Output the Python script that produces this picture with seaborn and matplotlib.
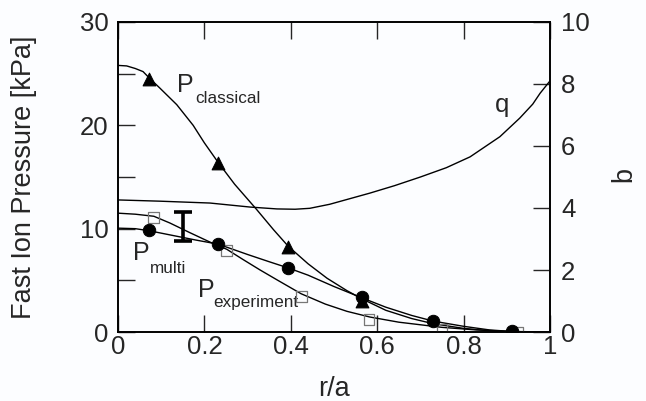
import matplotlib
matplotlib.use("Agg")
import matplotlib.pyplot as plt
import seaborn as sns
import pandas as pd
from matplotlib.ticker import MultipleLocator

# ---- data ----
cls_x = [0, 0.02, 0.04, 0.058, 0.072, 0.097, 0.136, 0.174, 0.2, 0.232, 0.27, 0.32, 0.36, 0.394,
         0.44, 0.484, 0.53, 0.565, 0.62, 0.68, 0.73, 0.8, 0.86, 0.91, 1.0]
cls_y = [25.8, 25.75, 25.5, 25.2, 24.6, 23.6, 22.0, 20.0, 18.3, 16.4, 14.3, 11.9, 9.9, 8.3,
         6.6, 5.2, 4.0, 3.2, 2.1, 1.3, 0.8, 0.35, 0.12, 0.03, 0.0]
cls_mx = [0.072, 0.232, 0.394, 0.565, 0.912]
cls_my = [24.5, 16.4, 8.2, 3.0, 0.0]

mul_x = [0, 0.04, 0.072, 0.12, 0.18, 0.232, 0.3, 0.35, 0.394, 0.44, 0.5, 0.565, 0.62, 0.68,
         0.73, 0.8, 0.86, 0.912, 1.0]
mul_y = [10.05, 10.0, 9.8, 9.4, 8.9, 8.5, 7.5, 6.8, 6.2, 5.5, 4.4, 3.3, 2.4, 1.6,
         1.05, 0.55, 0.2, 0.05, 0.0]
mul_mx = [0.072, 0.232, 0.394, 0.565, 0.729, 0.912]
mul_my = [9.85, 8.5, 6.2, 3.35, 1.05, 0.05]

exp_x = [0, 0.04, 0.083, 0.12, 0.167, 0.213, 0.252, 0.29, 0.329, 0.37, 0.424, 0.48, 0.53,
         0.583, 0.65, 0.75, 0.83, 0.924, 1.0]
exp_y = [11.5, 11.4, 11.2, 10.55, 9.6, 8.7, 8.0, 7.0, 6.0, 5.0, 3.7, 2.7, 2.0,
         1.45, 0.95, 0.45, 0.2, 0.03, 0.0]
exp_mx = [0.083, 0.252, 0.424, 0.581, 0.75, 0.924]
exp_my = [11.1, 7.9, 3.4, 1.2, 0.3, 0.0]

q_x = [0, 0.097, 0.213, 0.306, 0.368, 0.41, 0.444, 0.49, 0.583, 0.64, 0.70, 0.76, 0.815,
       0.884, 0.93, 0.96, 0.977, 1.0]
q_y = [4.26, 4.22, 4.16, 4.03, 3.97, 3.96, 3.99, 4.12, 4.48, 4.72, 5.0, 5.3, 5.65,
       6.3, 6.9, 7.35, 7.7, 8.1]

err_x = [0.151]
err_lo = [8.8]
err_hi = [11.6]

x_ticks = [0, 0.2, 0.4, 0.6, 0.8, 1.0]
x_labels = ["0", "0.2", "0.4", "0.6", "0.8", "1"]
y_ticks = [0, 10, 20, 30]
q_ticks = [0, 2, 4, 6, 8, 10]

# ---- style ----
sns.set_style("ticks")
plt.rcParams['font.family'] = ['Liberation Sans', 'DejaVu Sans']
BG = '#fcfdff'

fig = plt.figure(figsize=(6.46, 4.01), dpi=100, facecolor=BG)
ax = fig.add_axes([118/646, 1-332/401, (550-118)/646, (332-22)/401])
ax.set_facecolor(BG)
ax2 = ax.twinx()

lw = 1.0
for xs, ys in [(cls_x, cls_y), (mul_x, mul_y), (exp_x, exp_y)]:
    sns.lineplot(x=xs, y=ys, ax=ax, color='black', lw=lw, sort=False, estimator=None)
sns.lineplot(x=q_x, y=q_y, ax=ax2, color='black', lw=lw, sort=False, estimator=None)

sns.scatterplot(x=exp_mx, y=exp_my, ax=ax, marker='s', s=60, facecolor='none',
                edgecolor='#777777', linewidth=0.9, zorder=5)
sns.scatterplot(x=mul_mx, y=mul_my, ax=ax, marker='o', s=80, color='black',
                edgecolor='black', zorder=6)
sns.scatterplot(x=cls_mx, y=cls_my, ax=ax, marker='^', s=85, color='black',
                edgecolor='black', zorder=6)

mid = [(a + b) / 2 for a, b in zip(err_lo, err_hi)]
half = [(b - a) / 2 for a, b in zip(err_lo, err_hi)]
ax.errorbar(err_x, mid, yerr=half, fmt='none', ecolor='black', elinewidth=2.6,
            capsize=6.5, capthick=2.6, zorder=7)

# ---- axes ----
ax.set_xlim(0, 1)
ax.set_ylim(0, 30)
ax2.set_ylim(0, 10)
ax.set_xticks(x_ticks)
ax.set_xticklabels(x_labels)
ax.set_yticks(y_ticks)
ax.yaxis.set_minor_locator(MultipleLocator(5))
ax2.set_yticks(q_ticks)

fs = 18.5
lfs = 19.5
tl = 12
ax.tick_params(axis='x', which='both', direction='in', length=tl, width=1.0,
               top=True, labelsize=fs, pad=2)
ax.tick_params(axis='y', which='both', direction='in', length=tl, width=1.0,
               labelsize=fs, pad=7)
ax.tick_params(axis='y', which='minor', length=tl)
ax2.tick_params(axis='y', direction='in', length=tl, width=1.0, labelsize=fs, pad=8)
for a in (ax, ax2):
    for s in a.spines.values():
        s.set_linewidth(1.2)
        s.set_color('black')

ax.set_xlabel("r/a", fontsize=lfs)
ax.xaxis.label.set_va('center')
ax.xaxis.set_label_coords(0.5, -(389 - 332) / 310)
ax.set_ylabel("Fast Ion Pressure [kPa]", fontsize=lfs)
ax.yaxis.label.set_va('center')
ax.yaxis.set_label_coords((24 - 118) / 432, 0.5)
ax2.set_ylabel("q", fontsize=lfs, rotation=270)
ax2.yaxis.label.set_va('center')
ax2.yaxis.set_label_coords((622 - 118) / 432, 0.5)

# ---- curve labels ----
big, small = 18, 12.3
ax.text(0.137, 23.2, "P", fontsize=big, ha='left', va='baseline')
ax.text(0.178, 22.2, "classical", fontsize=small, ha='left', va='baseline')
ax.text(0.035, 6.97, "P", fontsize=big, ha='left', va='baseline')
ax.text(0.074, 5.71, "multi", fontsize=small, ha='left', va='baseline')
ax.text(0.185, 3.39, "P", fontsize=big, ha='left', va='baseline')
ax.text(0.22, 2.42, "experiment", fontsize=small, ha='left', va='baseline')
ax2.text(0.873, 7.1, "q", fontsize=fs, ha='left', va='baseline')

fig.savefig("out.png", dpi=100, facecolor=BG)
